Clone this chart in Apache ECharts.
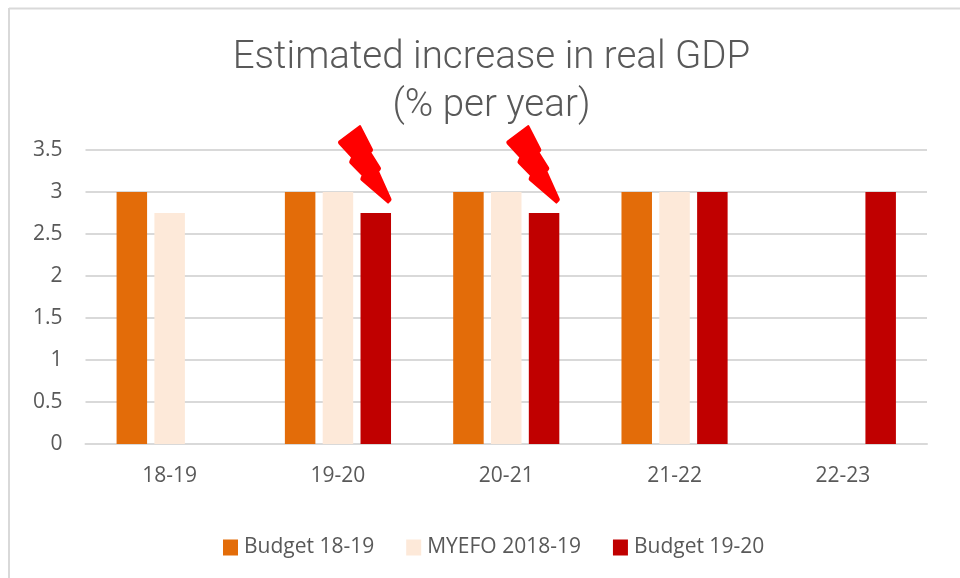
<!DOCTYPE html>
<html>
<head>
<meta charset="utf-8">
<style>
html,body{margin:0;padding:0;background:#fff;}
#chart{width:960px;height:578px;}
</style>
<script src="https://cdn.jsdelivr.net/npm/echarts@6/dist/echarts.min.js"></script>
</head>
<body>
<div id="chart"></div>
<script>
// data
var years = ['18-19', '19-20', '20-21', '21-22', '22-23'];
var budget1819 = [3, 3, 3, 3, null];
var myefo1819 = [2.75, 3, 3, 3, null];
var budget1920 = [null, 2.75, 2.75, 3, 3];
var boltYears = ['19-20', '20-21'];
var boltValue = 3.33;

// lightning bolt outline
var boltPath = 'path://M120 47L157 118L150 125L182 175L175 183L215 270L208 277L125 207L130 195L90 155L97 140L55 95Z';

var textFont = '"Open Sans", sans-serif';
var myChart = echarts.init(document.getElementById('chart'));

function barSeries(name, data, color) {
    return {
        name: name,
        type: 'bar',
        data: data,
        barWidth: 30.5,
        barGap: '24%',
        itemStyle: {color: color}
    };
}

var lastSeries = barSeries('Budget 19-20', budget1920, '#c00000');
lastSeries.markPoint = {
    symbol: boltPath,
    symbolSize: [51, 75],
    symbolOffset: [-11, 0],
    silent: true,
    label: {show: false},
    itemStyle: {color: '#ff0000', borderColor: '#ff0000', borderWidth: 3, borderJoin: 'round'},
    data: boltYears.map(function (y) {
        return {coord: [y, boltValue]};
    })
};

var option = {
    animation: false,
    backgroundColor: '#fff',
    title: {
        text: 'Estimated increase in real GDP\n(% per year)',
        left: 486.5,
        top: 29.5,
        textAlign: 'center',
        textStyle: {
            fontFamily: 'Roboto, sans-serif',
            fontWeight: 300,
            fontSize: 38.5,
            lineHeight: 48,
            color: '#595959'
        }
    },
    legend: {
        left: 218,
        top: 532,
        itemWidth: 15,
        itemHeight: 16,
        itemGap: 32,
        icon: 'rect',
        textStyle: {fontFamily: textFont, fontSize: 21, color: '#595959', padding: [0, 0, 0, 1]}
    },
    grid: {left: 85.5, right: 33, top: 150, bottom: 134},
    xAxis: {
        type: 'category',
        data: years,
        axisTick: {show: false},
        axisLine: {lineStyle: {color: '#d9d9d9', width: 2}},
        axisLabel: {fontFamily: textFont, fontSize: 21, color: '#595959', margin: 22}
    },
    yAxis: {
        type: 'value',
        min: 0,
        max: 3.5,
        interval: 0.5,
        axisLine: {show: false},
        axisTick: {show: false},
        splitLine: {lineStyle: {color: '#d9d9d9', width: 2}},
        axisLabel: {fontFamily: textFont, fontSize: 21, color: '#595959', margin: 23}
    },
    series: [
        barSeries('Budget 18-19', budget1819, '#e36c09'),
        barSeries('MYEFO 2018-19', myefo1819, '#fde9d9'),
        lastSeries
    ],
    graphic: [
        // chart frame, only top and left show in the crop
        {type: 'line', shape: {x1: 9, y1: 8.5, x2: 960, y2: 8.5}, style: {stroke: '#d9d9d9', lineWidth: 2}},
        {type: 'line', shape: {x1: 9, y1: 8, x2: 9, y2: 578}, style: {stroke: '#d9d9d9', lineWidth: 2}}
    ]
};

myChart.setOption(option);
</script>
</body>
</html>
